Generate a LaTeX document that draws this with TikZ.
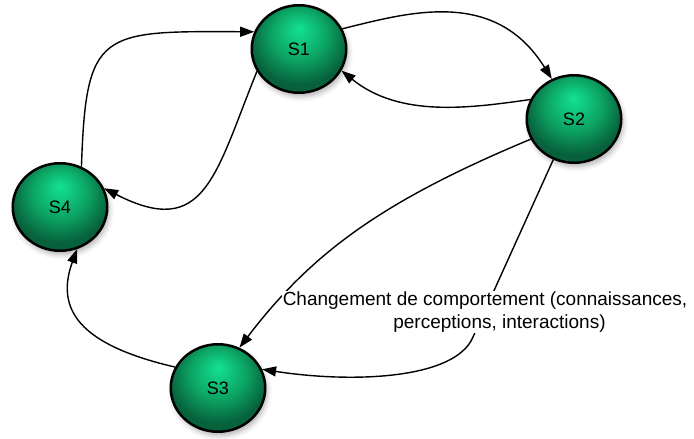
\documentclass[tikz,border=0pt]{standalone}
\usepackage{fontspec}
\setmainfont{Liberation Sans}
\usetikzlibrary{shapes.geometric,arrows.meta,shadows.blur}
\definecolor{hl}{RGB}{18,226,146}
\definecolor{md}{RGB}{12,162,98}
\definecolor{dk}{RGB}{7,98,60}
\pgfdeclareradialshading{greenball}{\pgfpoint{0bp}{12bp}}{color(0bp)=(hl); color(15bp)=(md); color(26bp)=(dk); color(50bp)=(dk)}
\begin{document}
\begin{tikzpicture}[x=1pt,y=-1pt,
  state/.style={ellipse, draw=black, line width=2.5pt, minimum width=94.5pt, minimum height=87.5pt,
    inner sep=0pt, shading=greenball, font=\fontsize{18}{20}\selectfont,
    blur shadow={shadow xshift=2pt, shadow yshift=-4pt, shadow blur radius=5pt, shadow opacity=30}},
  link/.style={line width=1.4pt, -{Triangle[length=14pt,width=10pt]}},
  lbl/.style={font=\fontsize{19}{23}\selectfont, align=center, fill=white, inner sep=0.5pt}]
\useasboundingbox (0,0) rectangle (694,439);
\node[state] (s1) at (299,49) {S1};
\node[state] (s2) at (574,119) {S2};
\node[state] (s4) at (60,207) {S4};
\node[state] (s3) at (218,388) {S3};
\draw[link] (s4.62) .. controls (86,30) and (100,31) .. (s1.159);
\draw[link] (s1.208) .. controls (215,175) and (205,240) .. (s4.23);
\draw[link] (s1.25) .. controls (410,12) and (495,-12) .. (s2.119);
\draw[link] (s2.156) .. controls (470,108) and (400,118) .. (s1.333);
\draw[link] (s2.205) .. controls (385,200) and (313,251) .. (s3.62);
\draw[link] (s2.243) -- (473,337) .. controls (455,380) and (350,383) .. (s3.23);
\draw[link] (s3.154) .. controls (80,345) and (55,310) .. (s4.292);
\node[lbl] (txt) at (485,312) {Changement de comportement (connaissances,\\\hspace*{29pt}perceptions, interactions)};
\end{tikzpicture}
\end{document}
